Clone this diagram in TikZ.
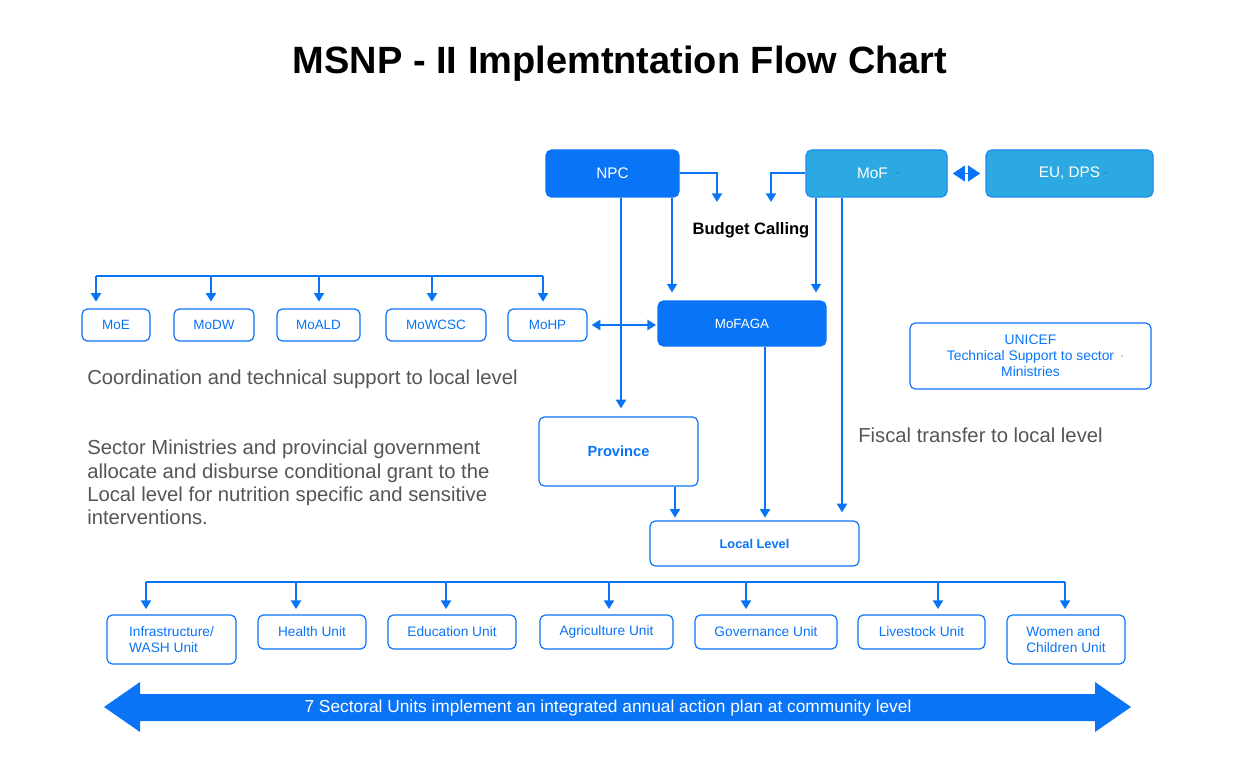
\documentclass[tikz,border=0pt]{standalone}
\usepackage{fontspec}
\setmainfont{Liberation Sans}
\usetikzlibrary{arrows.meta,fit,calc}
\definecolor{mainblue}{HTML}{0A74F7}
\definecolor{lightblue}{HTML}{2DA9E1}
\definecolor{greytxt}{HTML}{555555}
\begin{document}
\begin{tikzpicture}[x=0.75pt,y=-0.75pt,
  solidbox/.style={draw=mainblue, fill=mainblue, rounded corners=4pt, line width=0.8pt, inner sep=0pt},
  cyanbox/.style={draw=mainblue!60!lightblue, fill=lightblue, rounded corners=4pt, line width=0.8pt, inner sep=0pt},
  outbox/.style={draw=mainblue, fill=white, rounded corners=4pt, line width=0.9pt, inner sep=0pt},
  whitetxt/.style={text=white, inner sep=0pt},
  bluetxt/.style={text=mainblue, inner sep=0pt},
  conn/.style={draw=mainblue, line width=1.5pt},
  arr/.style={conn, -{Triangle[width=7.5pt,length=6.5pt]}, shorten >=4.5pt},
  darr/.style={conn, {Triangle[width=7.5pt,length=6.5pt]}-{Triangle[width=7.5pt,length=6.5pt]}},
  bigdarr/.style={draw=mainblue, line width=0.5pt, {Triangle[width=12pt,length=9pt]}-{Triangle[width=12pt,length=9pt]}},
  mintxt/.style={bluetxt, font=\fontsize{10.1}{12}\selectfont},
  unittxt/.style={bluetxt, font=\fontsize{10.3}{12}\selectfont, align=left},
  greynote/.style={text=greytxt, font=\fontsize{15.2}{17.3}\selectfont, inner sep=0pt, align=left},
  tinydot/.style={fill=black!80, draw=none}
]
\useasboundingbox (0,0) rectangle (1241,777);

% title
\node[anchor=base, font=\fontsize{28.5}{34}\selectfont\bfseries, inner sep=0pt] (title) at (620,73.5) {MSNP - II Implemtntation Flow Chart};

% top row
\node[solidbox, fit={(546,150)(679,197)}] (npc) {};
\node[whitetxt, font=\fontsize{11.5}{13}\selectfont] (npct) at (npc.center) {NPC};
\node[cyanbox, fit={(806,150)(947,197)}] (mof) {};
\node[whitetxt, font=\fontsize{11.5}{13}\selectfont] (moft) at ([xshift=-3]mof.center) {MoF};
\node[cyanbox, fit={(986,150)(1153,197)}] (eu) {};
\node[whitetxt, font=\fontsize{11.5}{13}\selectfont] (eut) at (eu.center) {EU, DPS};
\fill[tinydot] (898,173) circle (0.7);
\fill[tinydot] (1106,173) circle (0.7);

\node[anchor=base, font=\fontsize{12.4}{14}\selectfont\bfseries, inner sep=0pt] (budget) at (751,235) {Budget Calling};

% MoFAGA
\node[solidbox, fit={(658,301)(826,346)}] (mofaga) {};
\node[whitetxt, font=\fontsize{10}{12}\selectfont] (mofagat) at (mofaga.center) {MoFAGA};

% ministries
\node[outbox, fit={(82,309)(150,341)}] (moe) {};
\node[mintxt] (moet) at (moe.center) {MoE};
\node[outbox, fit={(174,309)(254,341)}] (modw) {};
\node[mintxt] (modwt) at (modw.center) {MoDW};
\node[outbox, fit={(277,309)(360,341)}] (moald) {};
\node[mintxt] (moaldt) at (moald.center) {MoALD};
\node[outbox, fit={(386,309)(486,341)}] (mowcsc) {};
\node[mintxt] (mowcsct) at (mowcsc.center) {MoWCSC};
\node[outbox, fit={(508,309)(587,341)}] (mohp) {};
\node[mintxt] (mohpt) at (mohp.center) {MoHP};

% UNICEF
\node[outbox, fit={(910,323)(1151,389)}] (unicef) {};
\node[bluetxt, font=\fontsize{10.4}{12}\selectfont, align=center] (uniceft) at (unicef.center) {UNICEF\\Technical Support to sector\\Ministries};
\fill[tinydot] (1122,356) circle (0.6);

% Province, Local
\node[outbox, fit={(539,417)(698,486)}] (prov) {};
\node[bluetxt, font=\fontsize{11}{13}\selectfont\bfseries] (provt) at (prov.center) {Province};
\node[outbox, fit={(650,521)(859,566)}] (local) {};
\node[bluetxt, font=\fontsize{9.6}{12}\selectfont\bfseries] (localt) at (local.center) {Local Level};

% notes
\node[greynote, anchor=base west] (coord) at (87,384) {Coordination and technical support to local level};
\node[greynote, anchor=north west] (sector) at (87,440) {Sector Ministries and provincial government\\allocate and disburse conditional grant to the\\Local level for nutrition specific and sensitive\\interventions.};
\node[greynote, anchor=base west] (fiscal) at (858,442) {Fiscal transfer to local level};

% units
\node[outbox, fit={(107,615)(236,664)}] (infra) {};
\node[unittxt] (infrat) at (infra.center) {Infrastructure/\\WASH Unit};
\node[outbox, fit={(258,615)(366,649)}] (health) {};
\node[unittxt] (healtht) at (health.center) {Health Unit};
\node[outbox, fit={(388,615)(516,649)}] (edu) {};
\node[unittxt] (edut) at (edu.center) {Education Unit};
\node[outbox, fit={(540,615)(673,649)}] (agri) {};
\node[unittxt] (agrit) at (agri.center) {Agriculture Unit};
\node[outbox, fit={(695,615)(837,649)}] (gov) {};
\node[unittxt] (govt) at (gov.center) {Governance Unit};
\node[outbox, fit={(858,615)(985,649)}] (live) {};
\node[unittxt] (livet) at (live.center) {Livestock Unit};
\node[outbox, fit={(1007,615)(1125,664)}] (women) {};
\node[unittxt] (woment) at (women.center) {Women and\\Children Unit};

% budget calling arrows
\coordinate (bc1) at (717,202);
\coordinate (bc2) at (771,202);
\draw[arr, shorten >=0pt] (npc.east) -| (bc1);
\draw[arr, shorten >=0pt] (mof.west) -| (bc2);

% MoF <-> EU
\draw[bigdarr, shorten >=4pt, shorten <=4pt] (mof.east) -- (eu.west);

% vertical connectors
\coordinate (xa) at (621,0);
\coordinate (xb) at (672,0);
\coordinate (xc) at (816,0);
\coordinate (xd) at (842,0);
\coordinate (xe) at (675,0);
\coordinate (xf) at (765,0);
\draw[arr, shorten >=6pt] (xa |- npc.south) -- (xa |- prov.north);
\draw[arr, shorten >=6pt] (xb |- npc.south) -- (xb |- mofaga.north);
\draw[arr, shorten >=6pt] (xc |- mof.south) -- (xc |- mofaga.north);
\draw[arr, shorten >=6pt] (xd |- mof.south) -- (xd |- local.north);
\draw[arr, shorten >=2pt] (xe |- prov.south) -- (xe |- local.north);
\draw[arr, shorten >=2pt] (xf |- mofaga.south) -- (xf |- local.north);

% MoHP <-> MoFAGA
\draw[darr, shorten <=3pt, shorten >=1pt] (mohp.east) -- (mohp.east -| mofaga.west);

% ministries bus
\coordinate (mbusL) at (96,276);
\coordinate (mbusR) at (543,276);
\draw[conn] (mbusL) -- (mbusR);
\foreach \x/\n in {96/moe,211/modw,319/moald,432/mowcsc,543/mohp}{
  \coordinate (t) at (\x,276);
  \draw[arr, shorten >=5pt] (t) -- (t |- \n.north);
}

% units bus
\coordinate (ubusL) at (146,582);
\coordinate (ubusR) at (1065,582);
\draw[conn] (ubusL) -- (ubusR);
\foreach \x/\n in {146/infra,296/health,446/edu,609/agri,746/gov,938/live,1065/women}{
  \coordinate (t) at (\x,582);
  \draw[arr, shorten >=4pt] (t) -- (t |- \n.north);
}

% big double arrow
\fill[mainblue] (104,707) -- (140,682) -- (140,694) -- (1095,694) -- (1095,682) -- (1131,707) -- (1095,732) -- (1095,721) -- (140,721) -- (140,732) -- cycle;
\node[text=white, font=\fontsize{13}{15}\selectfont, inner sep=0pt] (bigtxt) at (608,708) {7 Sectoral Units implement an integrated annual action plan at community level};
\end{tikzpicture}
\end{document}
